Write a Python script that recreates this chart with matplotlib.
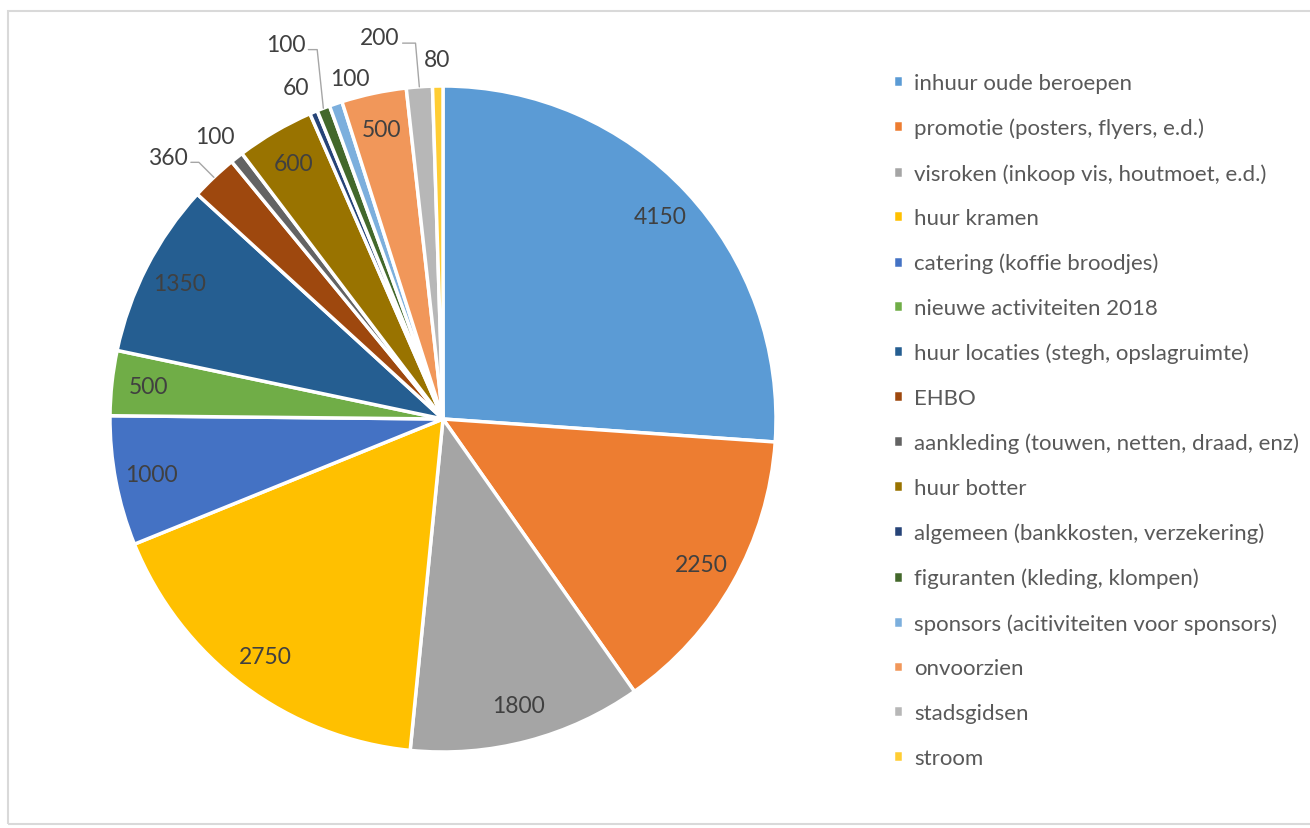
import numpy as np
import matplotlib.pyplot as plt
from matplotlib.patches import Rectangle

# categorieën en bedragen (volgorde van de taart, met de klok mee vanaf boven)
categories = [
    "inhuur oude beroepen",
    "promotie (posters, flyers, e.d.)",
    "visroken (inkoop vis, houtmoet, e.d.)",
    "huur kramen",
    "catering (koffie broodjes)",
    "nieuwe activiteiten 2018",
    "huur locaties (stegh, opslagruimte)",
    "EHBO",
    "aankleding (touwen, netten, draad, enz)",
    "huur botter",
    "algemeen (bankkosten, verzekering)",
    "figuranten (kleding, klompen)",
    "sponsors (acitiviteiten voor sponsors)",
    "onvoorzien",
    "stadsgidsen",
    "stroom",
]
values = [4150, 2250, 1800, 2750, 1000, 500, 1350, 360, 100, 600, 60, 100, 100, 500, 200, 80]

colors = [
    "#5B9BD5", "#ED7D31", "#A5A5A5", "#FFC000", "#4472C4", "#70AD47",
    "#255E91", "#9E480E", "#636363", "#997300", "#264478", "#43682B",
    "#7CAFDD", "#F1975A", "#B7B7B7", "#FFCD33",
]

# labelplaatsing: None = binnen de taart, anders (straal, hoekverschuiving, leader-hoek)
label_place = [
    None, None, None, None, None, None, None,
    (1.14, 2.9, 135),
    (1.09, 0.7, None),
    None,
    (1.09, 1.0, None),
    (1.22, 1.7, 96),
    (1.06, -3.5, None),
    None,
    (1.16, 5.3, 95),
    (1.08, 0.1, None),
]

FONT = "Lato"
TXT = "#404040"

fig = plt.figure(figsize=(13.1, 8.29), dpi=100)
fig.patches.append(Rectangle((8 / 1310, 4 / 829), 1.0, 813 / 829, transform=fig.transFigure,
                             fill=False, edgecolor="#D9D9D9", linewidth=1.5))

R = 333
cx, cy = 443, 829 - 420
half = 1.3 * R
ax = fig.add_axes([(cx - half) / 1310, (cy - half) / 829, 2 * half / 1310, 2 * half / 829])

wedges, _ = ax.pie(values, colors=colors, startangle=90, counterclock=False,
                   wedgeprops=dict(edgecolor="white", linewidth=2.5))
ax.set_xlim(-1.3, 1.3)
ax.set_ylim(-1.3, 1.3)
ax.axis("off")

for w, v, place in zip(wedges, values, label_place):
    mid = (w.theta1 + w.theta2) / 2
    if place is None:
        a = np.deg2rad(mid)
        ax.text(0.89 * np.cos(a), 0.89 * np.sin(a), str(v), ha="center", va="center",
                fontsize=16.5, color=TXT, family=FONT)
        continue
    r, dth, lead = place
    a = np.deg2rad(mid + dth)
    pos = (r * np.cos(a), r * np.sin(a))
    if lead is None:
        ax.text(pos[0], pos[1], str(v), ha="center", va="center",
                fontsize=16.5, color=TXT, family=FONT)
    else:
        am = np.deg2rad(mid)
        ax.annotate(str(v), xy=(np.cos(am), np.sin(am)), xytext=pos,
                    ha="center", va="center", fontsize=16.5, color=TXT, family=FONT,
                    arrowprops=dict(arrowstyle="-", color="#A6A6A6", lw=1,
                                    shrinkA=0, shrinkB=0, relpos=(1, 0.25),
                                    connectionstyle=f"angle,angleA=0,angleB={lead},rad=0"))

fig.legend(wedges, categories, loc="upper left", bbox_to_anchor=(893 / 1310, 1 - 74 / 829),
           frameon=False, handlelength=0.45, handleheight=0.45, handletextpad=0.5,
           labelspacing=1.11, prop=dict(family=FONT, size=16), labelcolor="#595959",
           borderaxespad=0, borderpad=0)

fig.savefig("out.png", dpi=100)
